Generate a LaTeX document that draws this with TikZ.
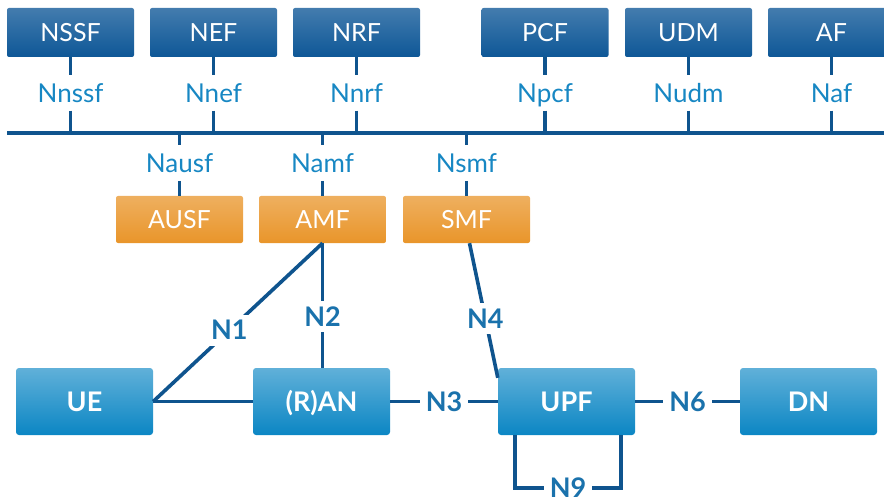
\documentclass[tikz,border=0pt]{standalone}
\usepackage{fontspec}
\setmainfont{Lato}
\usetikzlibrary{positioning}
\definecolor{nfblue}{HTML}{0E5797}
\definecolor{cporange}{HTML}{E9952A}
\definecolor{upblue}{HTML}{0B86C4}
\definecolor{linkblue}{HTML}{0F548E}
\definecolor{ifcblue}{HTML}{1787C3}
\definecolor{refblue}{HTML}{1A72AC}

\begin{document}
\begin{tikzpicture}[x=1pt, y=-1pt,
  every node/.style={font=\fontsize{25}{28}\selectfont, text height=23pt, text depth=4pt},
  nfbox/.style={rounded corners=2pt, minimum width=127pt, minimum height=49pt, inner sep=0pt,
                top color=nfblue!78!white, bottom color=nfblue, text=white},
  cpbox/.style={rounded corners=2pt, minimum width=127pt, minimum height=47pt, inner sep=0pt,
                top color=cporange!75!white, bottom color=cporange, text=white},
  upbox/.style={rounded corners=3pt, minimum width=137pt, minimum height=67pt, inner sep=0pt,
                top color=upblue!65!white, bottom color=upblue, text=white,
                font=\fontsize{27}{29}\selectfont\bfseries},
  ifc/.style={minimum height=35pt, inner sep=0pt, text=ifcblue, font=\fontsize{26}{28}\selectfont},
  nlbl/.style={fill=white, inner xsep=6pt, inner ysep=2pt, text=refblue,
               font=\fontsize{27}{29}\selectfont\bfseries},
  link/.style={draw=linkblue, line width=3.6pt},
  bus/.style={draw=linkblue, line width=4.2pt}
]
  \clip (0,0) rectangle (884,500);

  % service based functions
  \node[nfbox] (nssf) at (70.5,32.5)  {NSSF};
  \node[nfbox] (nef)  at (213.5,32.5) {NEF};
  \node[nfbox] (nrf)  at (356.5,32.5) {NRF};
  \node[nfbox] (pcf)  at (545,32.5)   {PCF};
  \node[nfbox] (udm)  at (688.5,32.5) {UDM};
  \node[nfbox] (af)   at (831.5,32.5) {AF};

  \node[cpbox] (ausf) at (179.5,219.5) {AUSF};
  \node[cpbox] (amf)  at (322.5,219.5) {AMF};
  \node[cpbox] (smf)  at (466.5,219.5) {SMF};

  \coordinate (busw) at (7,133);
  \coordinate (buse) at (884,133);
  \draw[bus] (busw) -- (buse);

  \foreach \f/\t in {nssf/Nnssf, nef/Nnef, nrf/Nnrf, pcf/Npcf, udm/Nudm, af/Naf} {
    \node[ifc, below=18pt of \f] (n\f) {\t};
    \draw[link] (\f.south) -- (n\f.north);
    \draw[link] (n\f.south) -- (n\f.south |- busw);
  }
  \foreach \f/\t in {ausf/Nausf, amf/Namf, smf/Nsmf} {
    \node[ifc, above=15pt of \f] (n\f) {\t};
    \draw[link] (n\f.north |- busw) -- (n\f.north);
    \draw[link] (n\f.south) -- (\f.north);
  }

  % user plane
  \node[upbox] (ue)  at (84.5,401.5)  {UE};
  \node[upbox] (ran) at (321.5,401.5) {(R)AN};
  \node[upbox] (upf) at (566.5,401.5) {UPF};
  \node[upbox] (dn)  at (808.5,401.5) {DN};

  \draw[link] (ue.east) -- (ran.west);
  \draw[link] (amf.south) -- node[nlbl, pos=0.55] {N1} (ue.east);
  \draw[link] (amf.south) -- node[nlbl, pos=0.59] {N2} (amf.south |- ran.north);
  \draw[link] (ran.east) -- node[nlbl] {N3} (upf.west);
  \draw[link] ([xshift=3pt]smf.south) -- node[nlbl, pos=0.56] {N4} ([yshift=-10pt]upf.north west);
  \draw[link] (upf.east) -- node[nlbl] {N6} (dn.west);

  \coordinate (n9l) at (515,488);
  \coordinate (n9r) at (621,488);
  \draw[link] (n9l |- upf.south) -- (n9l) -- node[nlbl] {N9} (n9r) -- (n9r |- upf.south);
\end{tikzpicture}
\end{document}
